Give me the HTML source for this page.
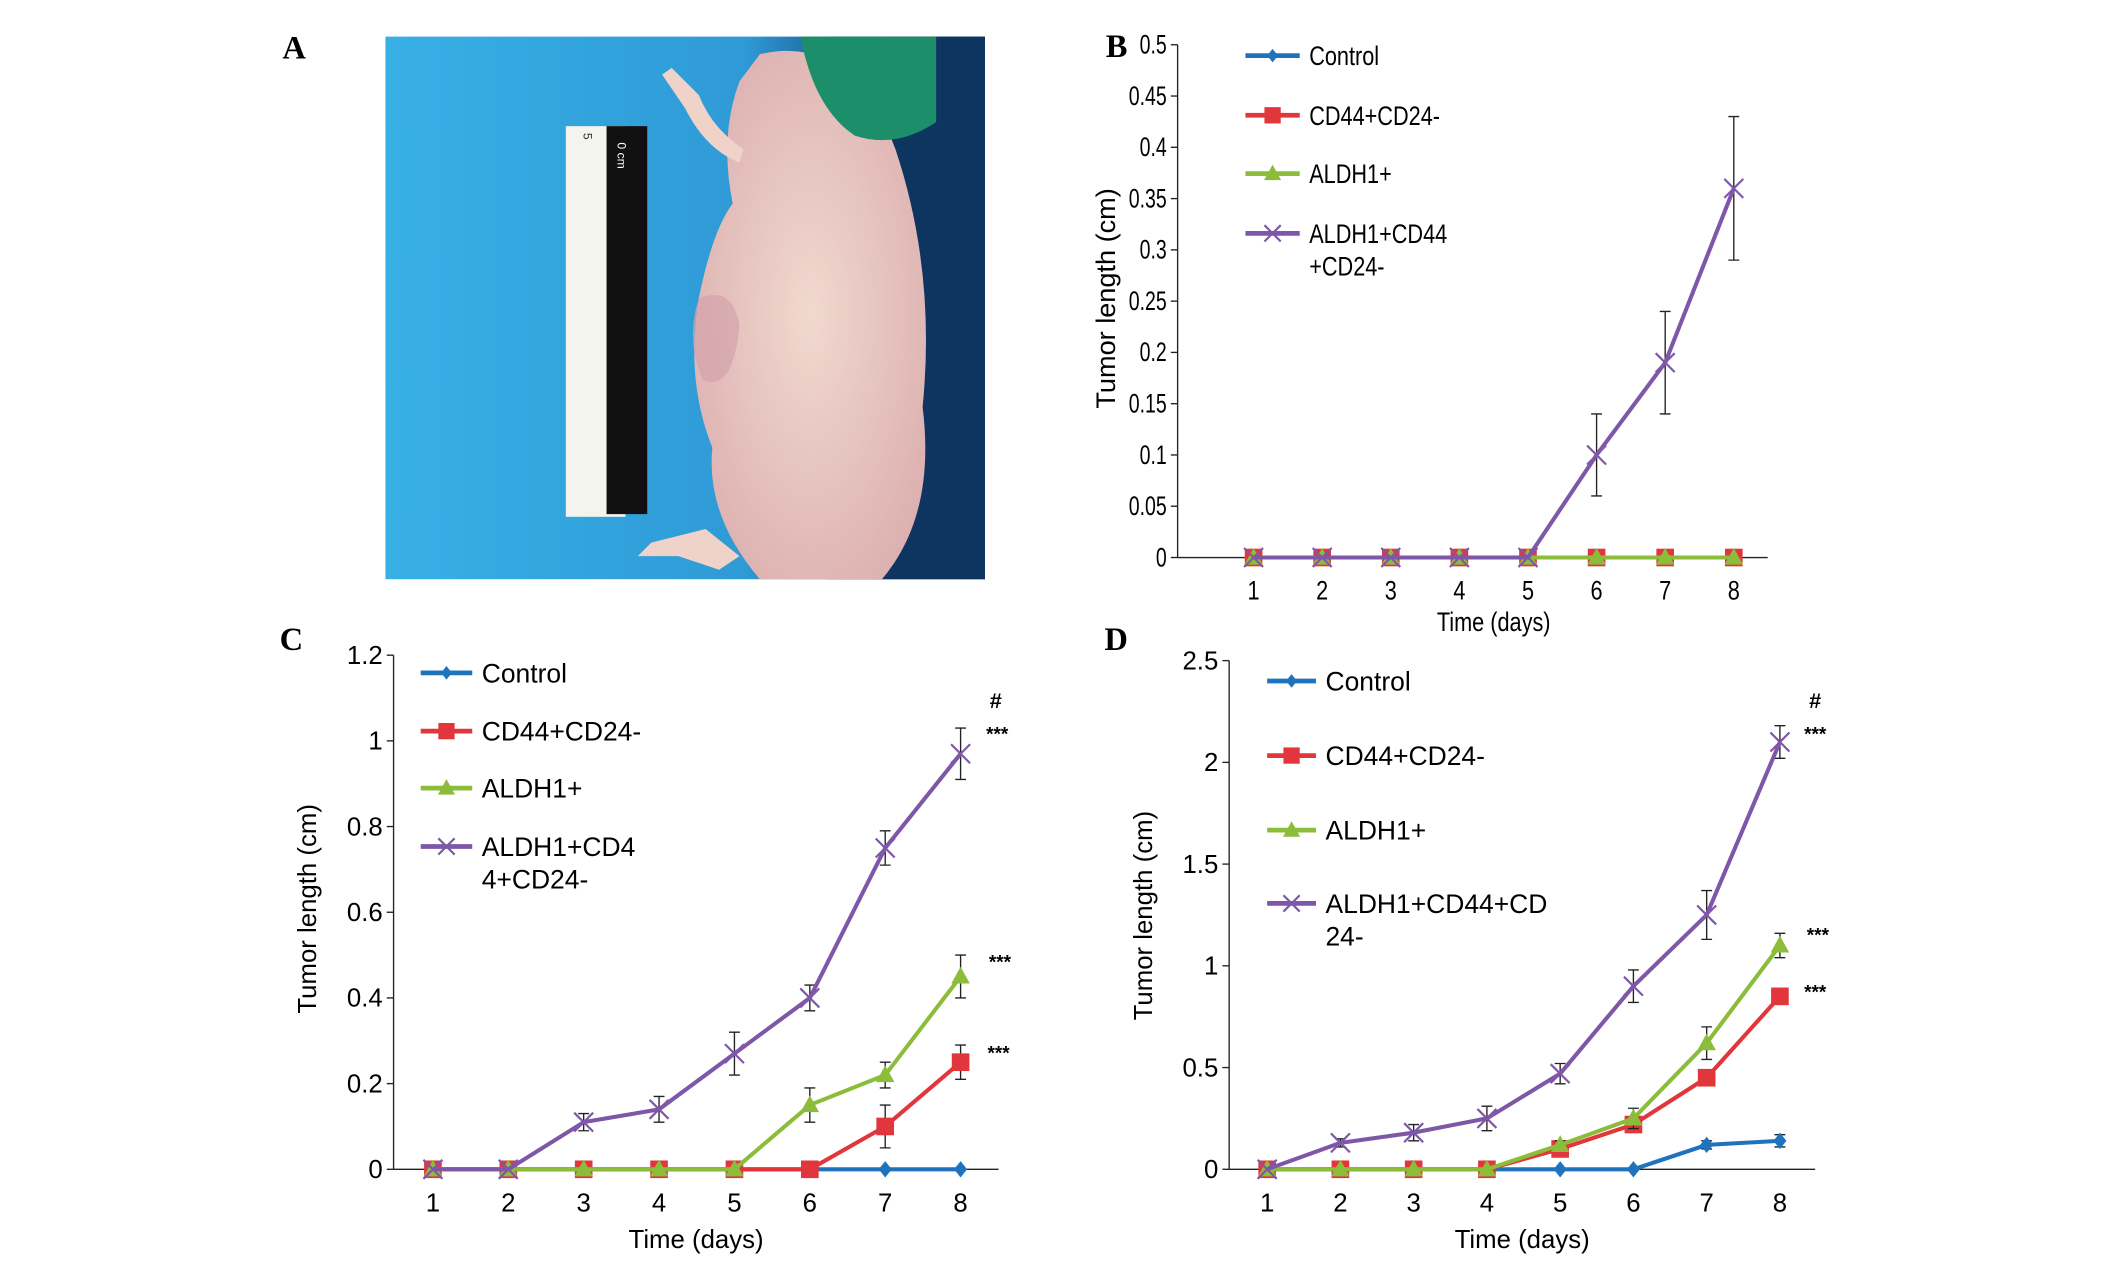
<!DOCTYPE html>
<html><head><meta charset="utf-8"><style>
html,body{margin:0;padding:0;background:#fff;}
svg{display:block;font-family:"Liberation Sans",sans-serif;}
</style></head><body>
<svg id="fig" width="2126" height="1261" viewBox="0 0 1567 929.6">
<defs>
<linearGradient id="bg" x1="0" x2="1" y1="0" y2="0"><stop offset="0" stop-color="#37b0e6"/><stop offset="0.6" stop-color="#2f9ad6"/><stop offset="0.85" stop-color="#103a6a"/><stop offset="1" stop-color="#0b2c55"/></linearGradient>
<radialGradient id="skin" cx="0.5" cy="0.5" r="0.6"><stop offset="0" stop-color="#f1d9cf"/><stop offset="1" stop-color="#dcb0b0"/></radialGradient>
</defs>
<g>
<rect x="284" y="27" width="442" height="400" fill="url(#bg)"/>
<rect x="610" y="27" width="116" height="400" fill="#0e3460"/>
<path d="M560 40 Q600 30 640 60 L660 110 Q690 200 680 300 Q690 380 650 427 L560 427 Q520 380 525 330 Q505 280 515 220 Q525 170 540 150 Q530 100 545 60 Z" fill="url(#skin)"/>
<path d="M515 220 Q505 250 518 280 Q540 290 545 240 Q540 210 515 220 Z" fill="#d3a2ab" opacity="0.7"/>
<path d="M488 55 L505 80 Q520 110 545 120 L548 110 Q525 95 515 70 L495 50 Z" fill="#f0d3c8"/>
<path d="M480 400 L520 390 L545 410 L530 420 L500 410 L470 410 Z" fill="#f0d3c8"/>
<path d="M590 27 L690 27 L690 90 Q660 110 630 100 Q600 80 590 27 Z" fill="#1d8e6a"/>
<rect x="417" y="93" width="44" height="288" fill="#f4f4ef"/>
<rect x="447" y="93" width="30" height="286" fill="#111"/>
<text x="455" y="105" font-size="9" fill="#fff" transform="rotate(90 455 105)">0 cm</text>
<text x="430" y="98" font-size="9" fill="#333" transform="rotate(90 430 98)">5</text>
</g>
<text x="208" y="43" font-family="Liberation Serif,serif" font-weight="bold" font-size="24">A</text>
<text x="815" y="42" font-family="Liberation Serif,serif" font-weight="bold" font-size="24">B</text>
<text x="206" y="479" font-family="Liberation Serif,serif" font-weight="bold" font-size="24">C</text>
<text x="814" y="479" font-family="Liberation Serif,serif" font-weight="bold" font-size="24">D</text>
</svg>
<script>
// ---- data ----
const days = [1,2,3,4,5,6,7,8];
const seriesNames = ["Control","CD44+CD24-","ALDH1+","ALDH1+CD44+CD24-"];
// Panel B
const bControl = [0,0,0,0,0,0,0,0];
const bCD44 = [0,0,0,0,0,0,0,0];
const bALDH1 = [0,0,0,0,0,0,0,0];
const bTriple = [0,0,0,0,0,0.1,0.19,0.36];
const bTripleErr = [0,0,0,0,0,0.04,0.05,0.07];
const bTicks = [0,0.05,0.1,0.15,0.2,0.25,0.3,0.35,0.4,0.45,0.5];
// Panel C
const cControl = [0,0,0,0,0,0,0,0];
const cCD44 = [0,0,0,0,0,0,0.1,0.25];
const cCD44Err = [0,0,0,0,0,0,0.05,0.04];
const cALDH1 = [0,0,0,0,0,0.15,0.22,0.45];
const cALDH1Err = [0,0,0,0,0,0.04,0.03,0.05];
const cTriple = [0,0,0.11,0.14,0.27,0.40,0.75,0.97];
const cTripleErr = [0,0,0.02,0.03,0.05,0.03,0.04,0.06];
const cTicks = [0,0.2,0.4,0.6,0.8,1,1.2];
// Panel D
const dControl = [0,0,0,0,0,0,0.12,0.14];
const dControlErr = [0,0,0,0,0,0,0.02,0.03];
const dCD44 = [0,0,0,0,0.1,0.22,0.45,0.85];
const dCD44Err = [0,0,0,0,0.02,0.03,0.03,0.03];
const dALDH1 = [0,0,0,0,0.12,0.25,0.62,1.10];
const dALDH1Err = [0,0,0,0,0.02,0.05,0.08,0.06];
const dTriple = [0,0.13,0.18,0.25,0.47,0.90,1.25,2.10];
const dTripleErr = [0,0.02,0.04,0.06,0.05,0.08,0.12,0.08];
const dTicks = [0,0.5,1,1.5,2,2.5];

const NS="http://www.w3.org/2000/svg";
const svg=document.getElementById('fig');
const COLORS=["#1f73bd","#e0363c","#8cbd3a","#7e57a8"];
function mk(tag,attrs,parent){const e=document.createElementNS(NS,tag);for(const k in attrs)e.setAttribute(k,attrs[k]);(parent||svg).appendChild(e);return e;}
function txt(parent,x,y,s,attrs,narrow){
  const a=Object.assign({},attrs);
  if(narrow){a.x=0;a.y=0;a.transform=`translate(${x},${y}) scale(${narrow},1)`;}else{a.x=x;a.y=y;}
  const t=mk('text',a,parent);t.textContent=s;return t;
}

function marker(g,kind,x,y,s){
  let m;
  if(kind===0){m=mk('path',{d:`M${x} ${y-s} L${x+s*0.8} ${y} L${x} ${y+s} L${x-s*0.8} ${y} Z`,fill:COLORS[0]},g);}
  else if(kind===1){m=mk('rect',{x:x-s,y:y-s,width:2*s,height:2*s,fill:COLORS[1]},g);}
  else if(kind===2){m=mk('path',{d:`M${x} ${y-s*1.1} L${x+s*1.05} ${y+s*0.8} L${x-s*1.05} ${y+s*0.8} Z`,fill:COLORS[2]},g);}
  else {m=mk('path',{d:`M${x-s} ${y-s} L${x+s} ${y+s} M${x-s} ${y+s} L${x+s} ${y-s}`,stroke:COLORS[3],'stroke-width':1.6,fill:'none'},g);}
  return m;
}

function chart(cfg){
  const nw=cfg.narrow||0;
  const tn=cfg.tickNarrow||nw;
  const g=mk('g',{});
  
  
  const X=d=>cfg.x1+(d-1)*(cfg.x8-cfg.x1)/7;
  const Y=v=>cfg.y0-(v/cfg.ymax)*(cfg.y0-cfg.ytop);
  const ya=mk('line',{x1:cfg.ax,y1:cfg.ytop,x2:cfg.ax,y2:cfg.y0,stroke:'#222','stroke-width':1},g);
  
  
  cfg.ticks.forEach(t=>{
    mk('line',{x1:cfg.ax-5,y1:Y(t),x2:cfg.ax,y2:Y(t),stroke:'#222','stroke-width':1},g);
    const tl=txt(g,cfg.ax-8,Y(t)+6.5,String(t),{'text-anchor':'end','font-size':cfg.fs},tn);
    
    
  });
  const xa=mk('line',{x1:cfg.ax,y1:cfg.y0,x2:cfg.xend,y2:cfg.y0,stroke:'#222','stroke-width':1},g);
  
  
  days.forEach(d=>{
    const tl=txt(g,X(d),cfg.y0+31,String(d),{'text-anchor':'middle','font-size':cfg.fs},nw);
    
    
  });
  const xt=txt(g,cfg.xtx,cfg.y0+cfg.xtdy,'Time (days)',{'text-anchor':'middle','font-size':cfg.fs},nw);
  
  
  const yt=mk('text',{x:0,y:0,'text-anchor':'middle','font-size':cfg.fs,transform:`translate(${cfg.ytx},${cfg.yty}) rotate(-90)`},g);
  yt.textContent='Tumor length (cm)';
  
  
  cfg.series.forEach((s,i)=>{
    const sg=mk('g',{},g);
    
    
    if(s.err){s.vals.forEach((v,j)=>{const e=s.err[j];if(e>0){const x=X(days[j]);
      mk('path',{d:`M${x} ${Y(v-e)} L${x} ${Y(v+e)} M${x-4} ${Y(v-e)} L${x+4} ${Y(v-e)} M${x-4} ${Y(v+e)} L${x+4} ${Y(v+e)}`,stroke:'#222','stroke-width':1,fill:'none'},sg);}});}
    const pts=s.vals.map((v,j)=>X(days[j])+','+Y(v)).join(' ');
    mk('polyline',{points:pts,fill:'none',stroke:COLORS[i],'stroke-width':3,'stroke-linejoin':'round'},sg);
    s.vals.forEach((v,j)=>{
      const m=marker(sg,i,X(days[j]),Y(v),i===0?6:(i===3?7:6.5));
      
      
    });
  });
  cfg.legend.forEach((lbl,i)=>{
    const lg=mk('g',{},g);
    
    
    const y=cfg.legY[i];
    mk('line',{x1:cfg.legX,y1:y,x2:cfg.legX+cfg.legW,y2:y,stroke:COLORS[i],'stroke-width':3.5},lg);
    marker(lg,i,cfg.legX+cfg.legW/2,y,i===0?5:6);
    lbl.forEach((ln,k)=>{txt(lg,cfg.legX+cfg.legW+7,y+7+k*24,ln,{'font-size':cfg.lfs},nw);});
  });
  (cfg.notes||[]).forEach(n=>{
    const t=mk('text',{x:n[0],y:n[1],'font-size':n[3],'text-anchor':'middle','font-weight':'bold'},g);
    t.textContent=n[2];
    
    
  });
}

chart({name:'chart-b',narrow:0.8,tickNarrow:0.72,ax:868,ytop:33,y0:411,ymax:0.5,x1:924,x8:1278,xend:1303,ticks:bTicks,fs:20,lfs:20,
  xtx:1101,xtdy:54,ytx:822,yty:220,legX:918,legW:40,legY:[41,85,128,172],
  legend:[["Control"],["CD44+CD24-"],["ALDH1+"],["ALDH1+CD44","+CD24-"]],
  series:[{vals:bControl},{vals:bCD44},{vals:bALDH1},{vals:bTriple,err:bTripleErr}]});
chart({name:'chart-c',ax:290,ytop:483,y0:862,ymax:1.2,x1:319,x8:708,xend:736,ticks:cTicks,fs:19,lfs:19.5,
  xtx:513,xtdy:58,ytx:233,yty:670,legX:310,legW:38,legY:[496,539,581,624],
  legend:[["Control"],["CD44+CD24-"],["ALDH1+"],["ALDH1+CD4","4+CD24-"]],
  series:[{vals:cControl},{vals:cCD44,err:cCD44Err},{vals:cALDH1,err:cALDH1Err},{vals:cTriple,err:cTripleErr}],
  notes:[[734,522,'#',16],[735,546,'***',14],[737,714,'***',14],[736,781,'***',14]]});
chart({name:'chart-d',ax:906,ytop:487,y0:862,ymax:2.5,x1:934,x8:1312,xend:1338,ticks:dTicks,fs:19,lfs:19.5,
  xtx:1122,xtdy:58,ytx:849,yty:675,legX:934,legW:36,legY:[502,557,612,666],
  legend:[["Control"],["CD44+CD24-"],["ALDH1+"],["ALDH1+CD44+CD","24-"]],
  series:[{vals:dControl,err:dControlErr},{vals:dCD44,err:dCD44Err},{vals:dALDH1,err:dALDH1Err},{vals:dTriple,err:dTripleErr}],
  notes:[[1338,522,'#',16],[1338,546,'***',14],[1340,694,'***',14],[1338,736,'***',14]]});
</script>
</body></html>
